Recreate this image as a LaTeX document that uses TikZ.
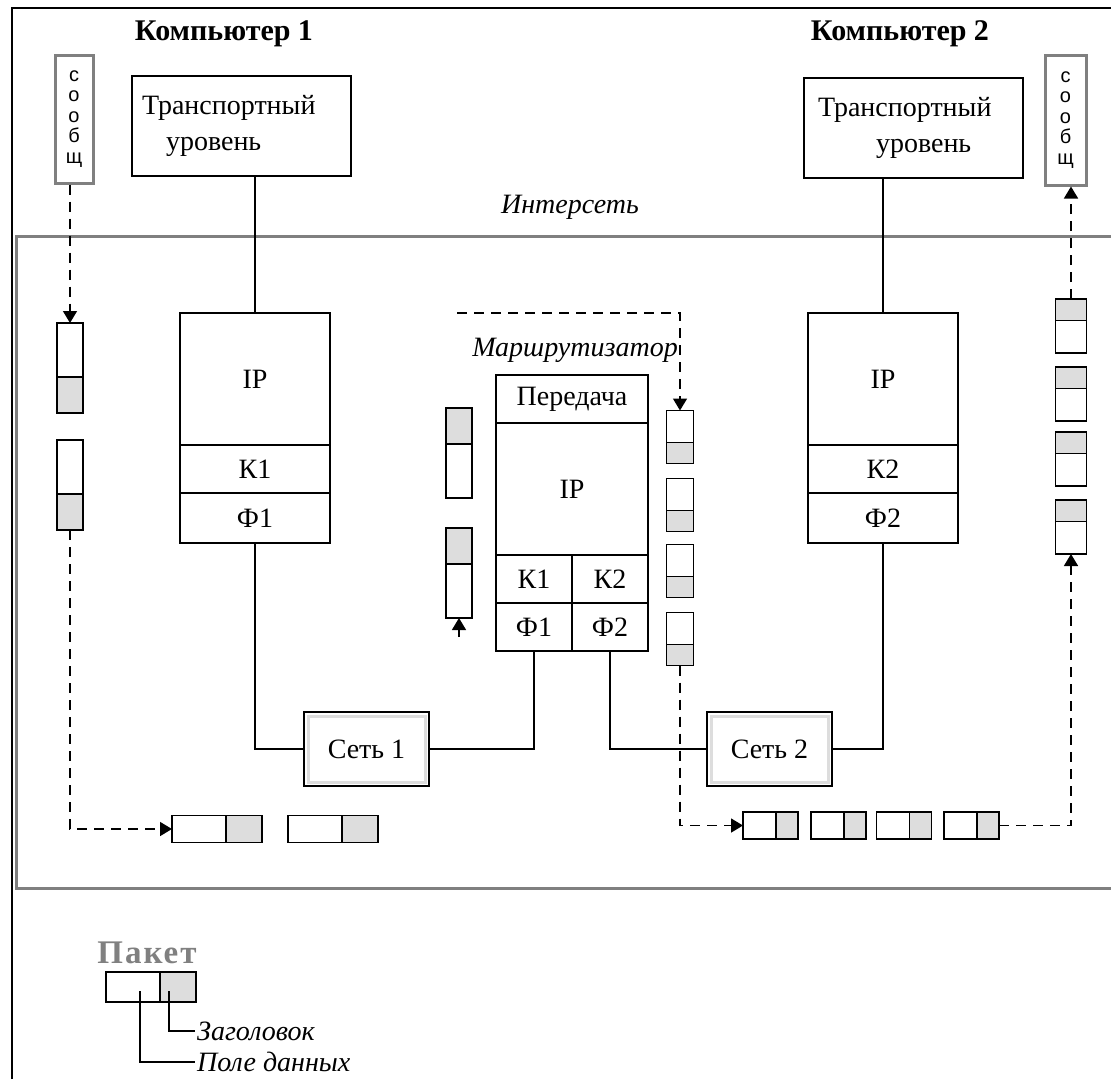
\documentclass[tikz,border=0pt]{standalone}
\usepackage{fontspec}
\setmainfont{Liberation Serif}
\newfontfamily\soobfont{Liberation Sans}
\usetikzlibrary{positioning,calc,arrows.meta}
\definecolor{golova}{RGB}{221,221,221}
\definecolor{ramka}{RGB}{128,128,128}

\begin{document}
\begin{tikzpicture}[x=1pt, y=-1pt,
  uroven/.style={draw=black, line width=1.6pt, inner sep=0pt, outer sep=0pt, fill=white, font=\fontsize{28}{36}\selectfont},
  soob/.style={draw=ramka, line width=3pt, inner sep=0pt, fill=white, align=center, font=\soobfont\fontsize{20}{20.5}\selectfont},
  seti/.style={draw=black, line width=1.6pt, fill=white, minimum width=125pt, minimum height=74pt, font=\fontsize{28}{30}\selectfont,
    path picture={\draw[golova, line width=3pt] ([shift={(4pt,4pt)}]path picture bounding box.south west) rectangle ([shift={(-4pt,-4pt)}]path picture bounding box.north east);}},
  paket/.style={draw=black, line width=1.4pt, inner sep=0pt, outer sep=0pt, fill=white},
  gS/.style={paket, path picture={\draw[line width=1.4pt, fill=golova] (path picture bounding box.south west) rectangle ($(path picture bounding box.north east)!0.6!(path picture bounding box.south east)$);}},
  gN/.style={paket, path picture={\draw[line width=1.4pt, fill=golova] (path picture bounding box.north west) rectangle ($(path picture bounding box.north east)!0.4!(path picture bounding box.south east)$);}},
  gE/.style={paket, path picture={\draw[line width=1.4pt, fill=golova] (path picture bounding box.north east) rectangle ($(path picture bounding box.south west)!0.6!(path picture bounding box.south east)$);}},
  shtrih/.style={line width=1.5pt, dash pattern=on 10pt off 7pt, -{Triangle[width=14pt,length=12pt]}},
  svyaz/.style={line width=1.6pt},
  kursiv/.style={font=\fontsize{28}{30}\selectfont\itshape},
  zagl/.style={font=\fontsize{30}{32}\selectfont\bfseries}
]
\useasboundingbox (0,0) rectangle (1111,1079);
\draw[line width=2pt] (12,1079) -- (12,8) -- (1111,8);
\draw[ramka, line width=3pt] (1111,236) -- (16,236) -- (16,888) -- (1111,888);

\node[zagl] (komp1) at (224,34) {Компьютер 1};
\node[zagl] (komp2) at (900,34) {Компьютер 2};
\node[kursiv] (inter) at (570,207) {Интерсеть};

\node[uroven, minimum width=219pt, minimum height=100pt, text width=199pt, align=left] (tr1) at (241.5,126) {Транспортный\\\hspace*{24pt}уровень};
\node[uroven, minimum width=219pt, minimum height=100pt, text width=191pt, align=left] (tr2) at (913.5,128) {Транспортный\\\hspace*{58pt}уровень};

\node[soob, minimum width=38pt, minimum height=128pt] (soob1) at (74,119) {с\\о\\о\\б\\щ};
\node[soob, minimum width=41pt, minimum height=130pt] (soob2) at (1065.5,120) {с\\о\\о\\б\\щ};

\node[uroven, minimum width=150pt, minimum height=132pt] (ip1) at (255,379) {IP};
\node[uroven, minimum width=150pt, minimum height=48pt, below=0pt of ip1] (k1) {К1};
\node[uroven, minimum width=150pt, minimum height=50pt, below=0pt of k1] (f1) {Ф1};
\node[uroven, minimum width=150pt, minimum height=132pt] (ip2) at (883,379) {IP};
\node[uroven, minimum width=150pt, minimum height=48pt, below=0pt of ip2] (k2) {К2};
\node[uroven, minimum width=150pt, minimum height=50pt, below=0pt of k2] (f2) {Ф2};

\node[kursiv] (marsh) at (575,350) {Маршрутизатор};
\node[uroven, minimum width=152pt, minimum height=48pt] (rper) at (572,399) {Передача};
\node[uroven, minimum width=152pt, minimum height=132pt, below=0pt of rper] (rip) {IP};
\node[uroven, minimum width=76pt, minimum height=48pt, anchor=north west] (rk1) at (rip.south west) {К1};
\node[uroven, minimum width=76pt, minimum height=48pt, right=0pt of rk1] (rk2) {К2};
\node[uroven, minimum width=76pt, minimum height=48pt, below=0pt of rk1] (rf1) {Ф1};
\node[uroven, minimum width=76pt, minimum height=48pt, below=0pt of rk2] (rf2) {Ф2};

\node[seti] (set1) at (366.5,749) {Сеть 1};
\node[seti] (set2) at (769.5,749) {Сеть 2};

\foreach \i/\y in {1/368,2/485}
  \node[gS, minimum width=26pt, minimum height=90pt] (lp\i) at (70,\y) {};
\foreach \i/\y in {1/453,2/573}
  \node[gN, minimum width=26pt, minimum height=90pt] (mp\i) at (459,\y) {};
\foreach \i/\y in {1/437,2/505,3/571,4/639}
  \node[gS, minimum width=27pt, minimum height=53pt] (rp\i) at (680,\y) {};
\foreach \i/\y in {1/326,2/394,3/459,4/527}
  \node[gN, minimum width=31pt, minimum height=54pt] (rq\i) at (1071,\y) {};
\foreach \i/\x in {1/217,2/333}
  \node[gE, minimum width=90pt, minimum height=27pt] (bp\i) at (\x,829) {};
\foreach \i/\x in {1/770.5,2/838.5,3/904,4/971.5}
  \node[gE, minimum width=55pt, minimum height=27pt] (rb\i) at (\x,825.5) {};

\draw[svyaz] (ip1.north) -- (ip1.north |- tr1.south);
\draw[svyaz] (ip2.north) -- (ip2.north |- tr2.south);
\draw[svyaz] (f1.south) |- (set1.west);
\draw[svyaz] (set1.east) -| (rf1.south);
\draw[svyaz] (rf2.south) |- (set2.west);
\draw[svyaz] (set2.east) -| (f2.south);

\draw[shtrih] (lp1.north |- soob1.south) -- (lp1.north);
\draw[shtrih] (lp2.south) |- (bp1.west);
\coordinate (nachalo) at (457,313);
\draw[shtrih] (nachalo) -| (rp1.north);
\coordinate (hvost) at (459,637);
\draw[shtrih] (hvost) -- (mp2.south);
\draw[shtrih] (rp4.south) |- (rb1.west);
\draw[shtrih] (rb4.east) -| (rq4.south);
\draw[shtrih] (rq1.north) -- (rq1.north |- soob2.south);

\node[font=\fontsize{33}{34}\selectfont\bfseries\addfontfeatures{LetterSpace=6}, text=ramka] (paketlbl) at (147,953) {Пакет};
\node[gE, minimum width=90pt, minimum height=30pt] (lg) at (151,987) {};
\coordinate (pd) at (140,991);
\coordinate (zg) at (169,991);
\node[kursiv, anchor=west, inner sep=2pt] (zag) at (195,1031) {Заголовок};
\node[kursiv, anchor=west, inner sep=2pt] (pole) at (195,1062) {Поле данных};
\draw[svyaz] (zg) |- (zag.west);
\draw[svyaz] (pd) |- (pole.west);
\end{tikzpicture}
\end{document}
